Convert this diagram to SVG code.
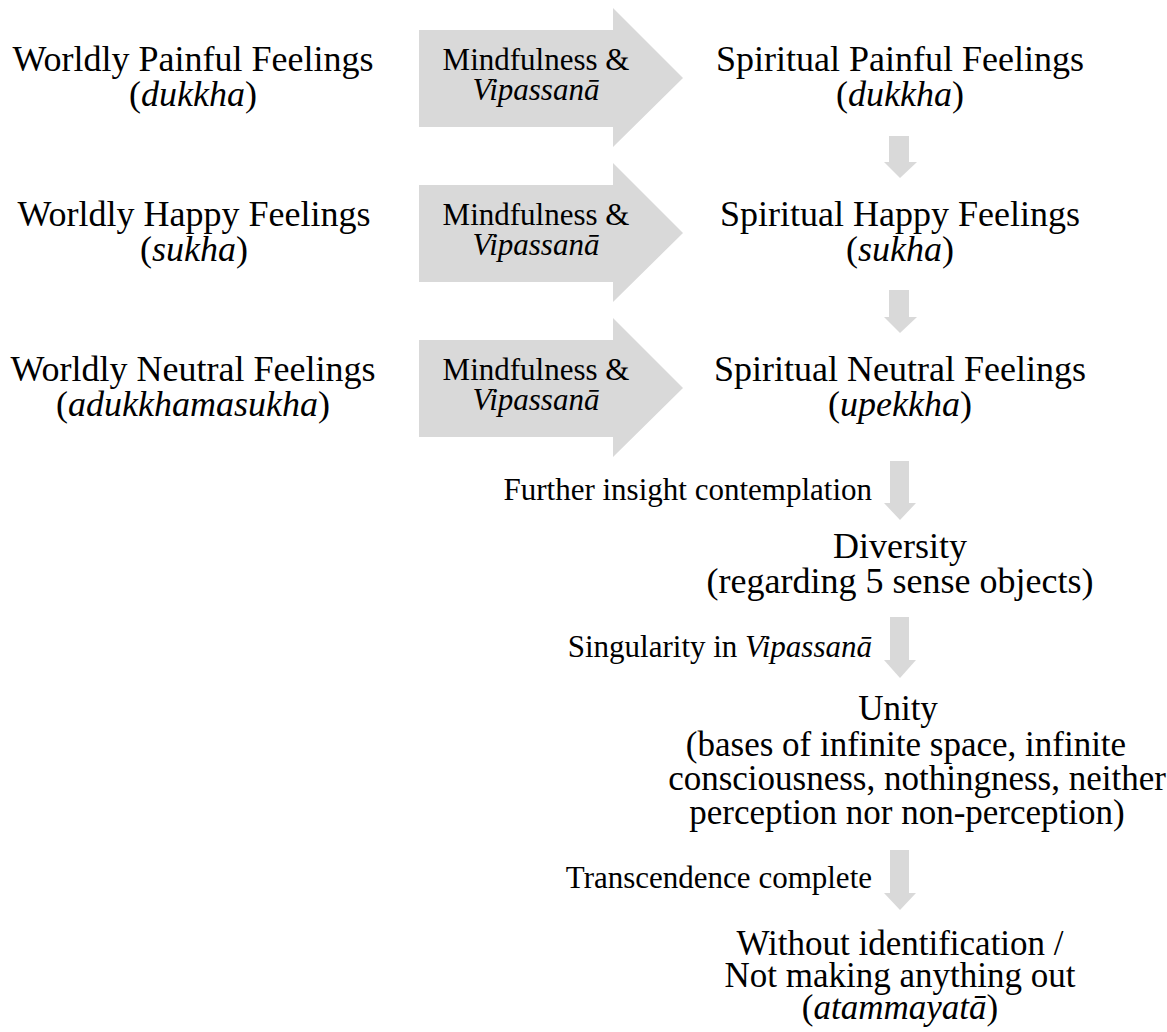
<svg xmlns="http://www.w3.org/2000/svg" width="1167" height="1032" viewBox="0 0 1167 1032">
<style>
text{font-family:'Liberation Serif','DejaVu Serif',serif;fill:#000;text-anchor:middle}
.m{font-size:35px}
.l{font-size:36px}
.s{font-size:31px}
.e{text-anchor:end}
.i{font-style:italic}
.big{fill:#d9d9d9}
.sm{fill:#d9d9d9}
</style>
<rect width="1167" height="1032" fill="#fff"/>
<defs>
<path id="bigArrow" d="M419,30 H613 V8 L683,78 L613,147 V127 H419 Z"/>
</defs>
<g id="connectors">
<use href="#bigArrow" class="big"/>
<use href="#bigArrow" class="big" transform="translate(0,155)"/>
<use href="#bigArrow" class="big" transform="translate(0,310)"/>
<path class="sm" d="M889,136 H909 V162 H917 L900,178 L884,162 H889 Z"/>
<path class="sm" d="M889,290 H909 V317 H917 L900,333 L884,317 H889 Z"/>
<path class="sm" d="M890,461 H909 V503 H916 L900,520 L884,503 H890 Z"/>
<path class="sm" d="M890,617 H909 V660 H916 L900,678 L884,660 H890 Z"/>
<path class="sm" d="M890,850 H909 V893 H916 L900,910 L884,893 H890 Z"/>
</g>
<g id="label-arrow1"><text class="s" x="536" y="70">Mindfulness &amp;</text><text class="s i" x="536" y="100">Vipassanā</text></g>
<g id="label-arrow2"><text class="s" x="536" y="225">Mindfulness &amp;</text><text class="s i" x="536" y="255">Vipassanā</text></g>
<g id="label-arrow3"><text class="s" x="536" y="380">Mindfulness &amp;</text><text class="s i" x="536" y="410">Vipassanā</text></g>
<g id="worldly-painful"><text class="l" x="193" y="71">Worldly Painful Feelings</text><text class="l" x="193" y="106">(<tspan class="i">dukkha</tspan>)</text></g>
<g id="worldly-happy"><text class="l" x="194" y="226">Worldly Happy Feelings</text><text class="l" x="194" y="261">(<tspan class="i">sukha</tspan>)</text></g>
<g id="worldly-neutral"><text class="l" x="193" y="381">Worldly Neutral Feelings</text><text class="l" x="193" y="416">(<tspan class="i">adukkhamasukha</tspan>)</text></g>
<g id="spiritual-painful"><text class="l" x="900" y="71">Spiritual Painful Feelings</text><text class="l" x="900" y="106">(<tspan class="i">dukkha</tspan>)</text></g>
<g id="spiritual-happy"><text class="l" x="900" y="226">Spiritual Happy Feelings</text><text class="l" x="900" y="261">(<tspan class="i">sukha</tspan>)</text></g>
<g id="spiritual-neutral"><text class="l" x="900" y="381">Spiritual Neutral Feelings</text><text class="l" x="900" y="416">(<tspan class="i">upekkha</tspan>)</text></g>
<g id="label-further"><text class="s e" x="872" y="500">Further insight contemplation</text></g>
<g id="diversity"><text class="l" x="900" y="558">Diversity</text><text class="l" x="900" y="593">(regarding 5 sense objects)</text></g>
<g id="label-singularity"><text class="s e" x="872" y="657">Singularity in <tspan class="i">Vipassanā</tspan></text></g>
<g id="unity"><text class="m" x="898" y="720">Unity</text><text class="m" x="906" y="756">(bases of infinite space, infinite</text><text class="m" x="917" y="790">consciousness, nothingness, neither</text><text class="m" x="907" y="824">perception nor non-perception)</text></g>
<g id="label-transcendence"><text class="s e" x="872" y="888">Transcendence complete</text></g>
<g id="atammayata"><text class="m" x="900" y="955">Without identification /</text><text class="m" x="900" y="987">Not making anything out</text><text class="m" x="900" y="1019">(<tspan class="i">atammayatā</tspan>)</text></g>
</svg>
